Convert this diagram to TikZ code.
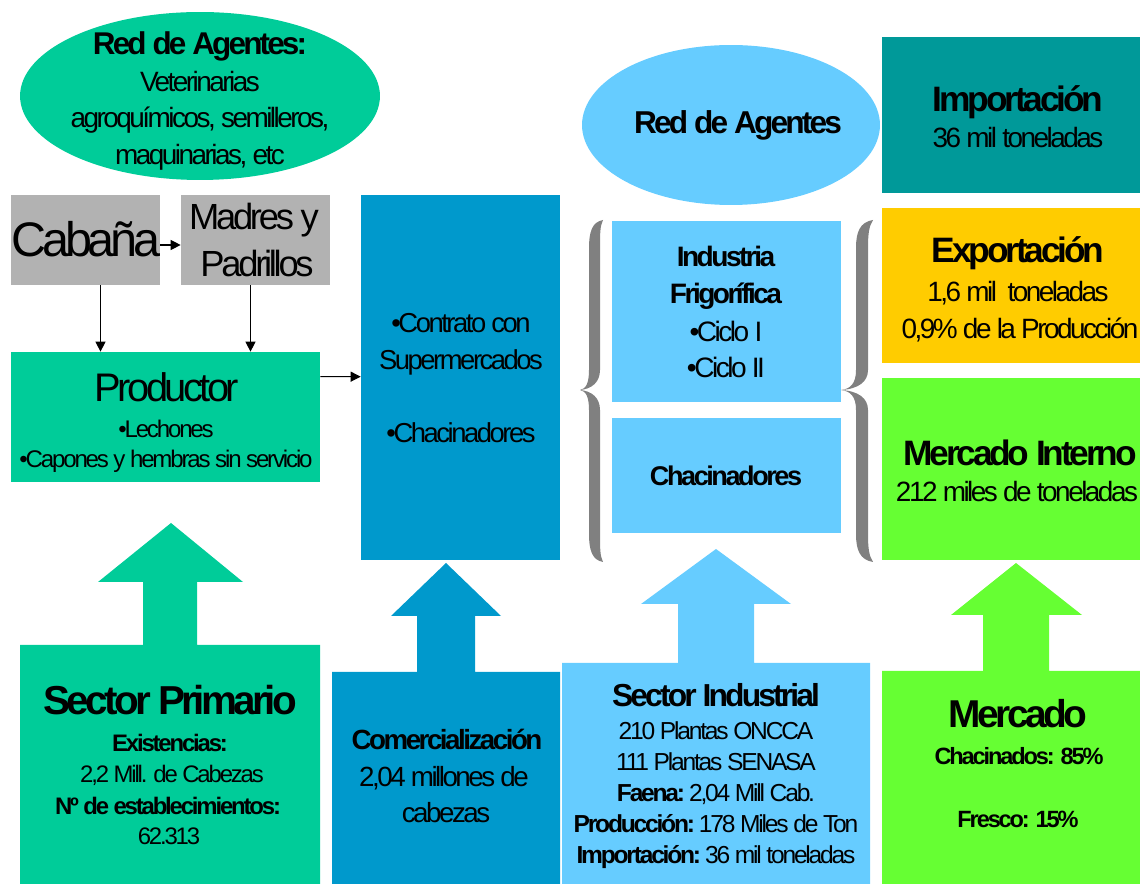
\documentclass[tikz,border=0pt]{standalone}
\usepackage{fontspec}
\setmainfont{Liberation Sans}[LetterSpace=-9]
\usetikzlibrary{arrows.meta,calc,shapes.geometric}
\definecolor{cgreen}{HTML}{00CC99}
\definecolor{cblue}{HTML}{0099CC}
\definecolor{clight}{HTML}{66CCFF}
\definecolor{cteal}{HTML}{009999}
\definecolor{cyellow}{HTML}{FFCC00}
\definecolor{clime}{HTML}{66FF33}
\definecolor{cgray}{HTML}{B2B2B2}
\definecolor{cbrace}{HTML}{808080}
\newcommand\fz[1]{\fontsize{#1pt}{#1pt}\selectfont}
\tikzset{
  box/.style={rectangle, inner sep=0pt, draw=none},
  oval/.style={ellipse, inner sep=0pt, draw=none},
  lbl/.style={inner sep=0pt, anchor=base, text=black},
  arr/.style={-{Triangle[length=0.2cm,width=0.2cm]}, line width=0.6pt, draw=black},
}
\begin{document}
\begin{tikzpicture}[x=0.02cm,y=-0.02cm]
\useasboundingbox (0,0) rectangle (1140,884);
\clip (0,0) rectangle (1140,884);

% ---- top-left ellipse
\node[oval, fill=cgreen, minimum width=7.2cm, minimum height=3.36cm] (agA) at (200,96) {};
\node[lbl, font=\bfseries\fz{17.9}] (agA1) at (200,55) {Red de Agentes:};
\node[lbl, font=\fz{15.9}] (agA2) at (200,92) {Veterinarias};
\node[lbl, font=\fz{15.9}] (agA3) at (200,128) {agroquímicos, semilleros,};
\node[lbl, font=\fz{15.9}] (agA4) at (200,165) {maquinarias, etc};

% ---- gray boxes
\node[box, fill=cgray, minimum width=2.98cm, minimum height=1.8cm] (cab) at (85.5,240) {};
\node[lbl, font=\fz{27.6}] (cabT) at (86,257) {Cabaña};
\node[box, fill=cgray, minimum width=2.98cm, minimum height=1.8cm] (mad) at (255.5,240) {};
\node[lbl, font=\fz{20.7}] (madT1) at (254,230) {Madres y};
\node[lbl, font=\fz{20.7}] (madT2) at (257,277) {Padrillos};

% ---- productor
\node[box, fill=cgreen, minimum width=6.18cm, minimum height=2.6cm] (prod) at (165.5,417) {};
\node[lbl, font=\fz{22.7}] (prodT1) at (167,402) {Productor};
\node[lbl, font=\fz{13.7}] (prodT2) at (166,438) {•Lechones};
\node[lbl, font=\fz{13.7}] (prodT3) at (166,468) {•Capones y hembras sin servicio};

% ---- contrato column
\node[box, fill=cblue, minimum width=3.98cm, minimum height=7.3cm] (cont) at (460.5,377.5) {};
\node[lbl, font=\fz{15.6}] (contT1) at (461,333) {•Contrato con};
\node[lbl, font=\fz{15.6}] (contT2) at (461,370) {Supermercados};
\node[lbl, font=\fz{15.6}] (contT3) at (461,443) {•Chacinadores};

% ---- connectors
\draw[arr] ($(cab.east)+(0,5)$) -- ($(mad.west)+(0,5)$);
\draw[arr] ($(cab.south)+(15,0)$) -- ($(prod.north)+(-65,0)$);
\draw[arr] ($(mad.south)+(-5,0)$) -- ($(prod.north)+(85,0)$);
\draw[arr] ($(prod.north east)+(0,25)$) -- ($(cont.north west)+(0,182)$);

% ---- second ellipse
\node[oval, fill=clight, minimum width=5.96cm, minimum height=3.2cm] (agB) at (731,125) {};
\node[lbl, font=\bfseries\fz{18}] (agBT) at (738,134) {Red de Agentes};

% ---- industria boxes
\node[box, fill=clight, minimum width=4.58cm, minimum height=3.62cm] (ind) at (726.5,311.5) {};
\node[lbl, font=\bfseries\fz{16}] (indT1) at (726,267) {Industria};
\node[lbl, font=\bfseries\fz{16}] (indT2) at (726,304) {Frigorífica};
\node[lbl, font=\fz{16}] (indT3) at (726,342) {•Ciclo I};
\node[lbl, font=\fz{16}] (indT4) at (726,378) {•Ciclo II};
\node[box, fill=clight, minimum width=4.58cm, minimum height=2.3cm] (chac) at (726.5,475.5) {};
\node[lbl, font=\bfseries\fz{15.4}] (chacT) at (726,486) {Chacinadores};

% ---- braces
\fill[cbrace] (603,220) .. controls (592,222) and (589,232) .. (589,248) -- (589,370)
  .. controls (589,383) and (586,389) .. (580,390) .. controls (586,391) and (589,397) .. (589,410)
  -- (589,534) .. controls (589,550) and (592,560) .. (603,562)
  .. controls (600,556) and (600,548) .. (600,534) -- (600,410)
  .. controls (600,398) and (592,391) .. (580,390) .. controls (592,389) and (600,382) .. (600,370)
  -- (600,248) .. controls (600,234) and (600,226) .. (603,220) -- cycle;
\fill[cbrace] (873,220) .. controls (860,222) and (856,232) .. (856,248) -- (856,370)
  .. controls (856,384) and (850,389) .. (841,390) .. controls (850,391) and (856,396) .. (856,410)
  -- (856,534) .. controls (856,550) and (860,560) .. (873,562)
  .. controls (869,556) and (868,548) .. (868,534) -- (868,410)
  .. controls (868,398) and (858,391) .. (841,390) .. controls (858,389) and (868,382) .. (868,370)
  -- (868,248) .. controls (868,234) and (869,226) .. (873,220) -- cycle;

% ---- right column
\node[box, fill=cteal, minimum width=5.36cm, minimum height=3.12cm] (imp) at (1016,115) {};
\node[lbl, font=\bfseries\fz{20.1}] (impT1) at (1018,112) {Importación};
\node[lbl, font=\fz{15.9}] (impT2) at (1018,148) {36 mil toneladas};
\node[box, fill=cyellow, minimum width=5.36cm, minimum height=3.1cm] (exp) at (1016,285.5) {};
\node[lbl, font=\bfseries\fz{20.1}] (expT1) at (1018,263) {Exportación};
\node[lbl, font=\fz{15.9}] (expT2) at (1018,302) {1,6 mil\ \ toneladas};
\node[lbl, font=\fz{15.9}] (expT3) at (1020,339) {0,9\% de la Producción};
\node[box, fill=clime, minimum width=5.36cm, minimum height=3.64cm] (mint) at (1016,469) {};
\node[lbl, font=\bfseries\fz{20.1}] (mintT1) at (1020,466) {Mercado Interno};
\node[lbl, font=\fz{15.9}] (mintT2) at (1017,502) {212 miles de toneladas};

% ---- bottom block arrows with boxes
\fill[cgreen] (20,900) -- (20,645) -- (143,645) -- (143,582) -- (98,582) -- (171,523)
  -- (243,582) -- (197,582) -- (197,645) -- (320,645) -- (320,900) -- cycle;
\fill[cblue] (332,900) -- (332,672) -- (417,672) -- (417,616) -- (391,616) -- (446,563)
  -- (501,616) -- (475,616) -- (475,672) -- (560,672) -- (560,900) -- cycle;
\fill[clight] (562,900) -- (562,663) -- (678,663) -- (678,604) -- (641,604) -- (716,549)
  -- (791,604) -- (754,604) -- (754,663) -- (870,663) -- (870,900) -- cycle;
\fill[clime] (882,900) -- (882,671) -- (983,671) -- (983,615) -- (951,615) -- (1016,563)
  -- (1082,615) -- (1049,615) -- (1049,671) -- (1150,671) -- (1150,900) -- cycle;

% ---- bottom texts
\node[lbl, font=\bfseries\fz{23}] (spT1) at (170,715) {Sector Primario};
\node[lbl, font=\bfseries\fz{13.6}] (spT2) at (170,752) {Existencias:};
\node[lbl, font=\fz{13.6}] (spT3) at (172,783) {2,2 Mill. de Cabezas};
\node[lbl, font=\bfseries\fz{13.6}] (spT4) at (168,815) {Nº de establecimientos:};
\node[lbl, font=\fz{13.6}] (spT5) at (169,845) {62.313};

\node[lbl, font=\bfseries\fz{15.8}] (coT1) at (447,750) {Comercialización};
\node[lbl, font=\fz{15.8}] (coT2) at (444,787) {2,04 millones de};
\node[lbl, font=\fz{15.8}] (coT3) at (446,823) {cabezas};

\node[lbl, font=\bfseries\fz{18.1}] (siT1) at (716,707) {Sector Industrial};
\node[lbl, font=\fz{14}] (siT2) at (716,740) {210 Plantas ONCCA};
\node[lbl, font=\fz{14}] (siT3) at (716,771) {111 Plantas SENASA};
\node[lbl, font=\fz{14}] (siT4) at (716,802) {\textbf{Faena:} 2,04 Mill Cab.};
\node[lbl, font=\fz{14}] (siT5) at (716,833) {\textbf{Producción:} 178 Miles de Ton};
\node[lbl, font=\fz{14}] (siT6) at (716,864) {\textbf{Importación:} 36 mil toneladas};

\node[lbl, font=\bfseries\fz{22.1}] (meT1) at (1018,728) {Mercado};
\node[lbl, font=\bfseries\fz{13.4}] (meT2) at (1019,765) {Chacinados: 85\%};
\node[lbl, font=\bfseries\fz{13.4}] (meT3) at (1018,828) {Fresco: 15\%};
\end{tikzpicture}
\end{document}
